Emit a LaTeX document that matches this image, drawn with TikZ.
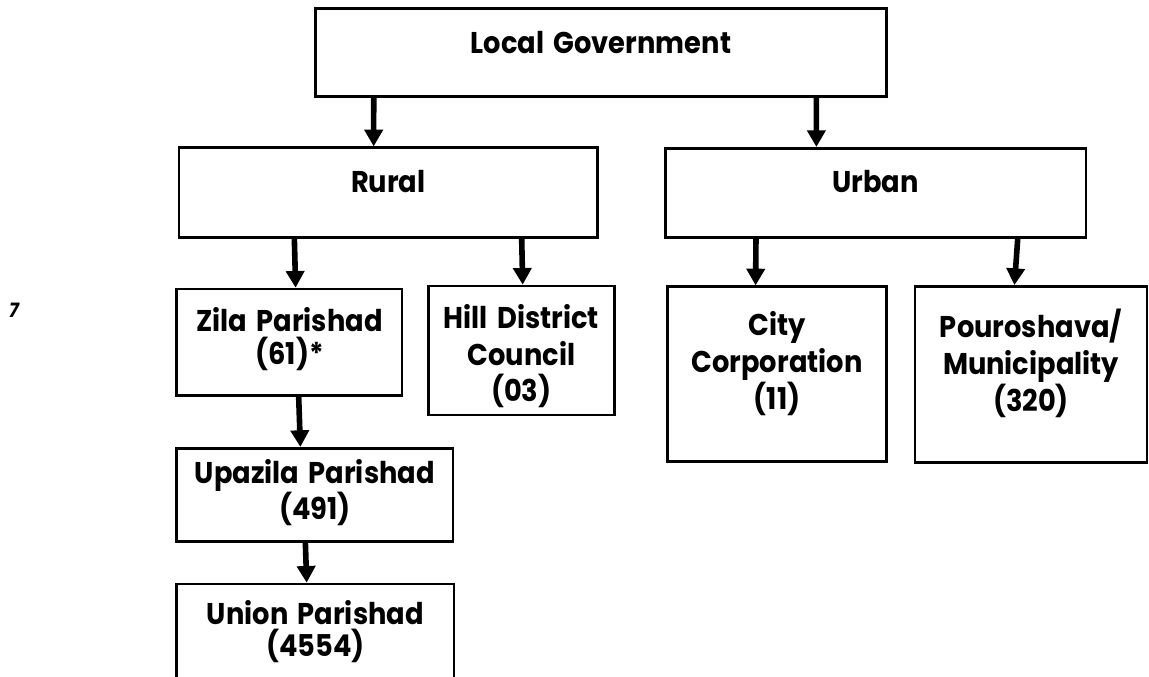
\documentclass[tikz,border=0pt]{standalone}
\usepackage{fontspec}
\setmainfont{Poppins}[FakeStretch=0.91,WordSpace=1.6]
\usetikzlibrary{arrows.meta}
\begin{document}
\begin{tikzpicture}[x=0.75pt,y=-0.75pt,
  box/.style={draw, line width=2pt, inner sep=0pt, rectangle},
  lbl/.style={font=\bfseries\fontsize{22.5}{26}\selectfont, align=center, inner sep=0pt},
  arr/.style={line width=4.2pt, -{Triangle[width=13.5pt,length=12.5pt]}}]
\useasboundingbox (0,0) rectangle (1149,677);
\clip (0,0) rectangle (1149,677);

% boxes
\node[box, minimum width=428.25pt, minimum height=66.3pt] (lg) at (601.2,52.5) {};
\node[box, minimum width=314pt, minimum height=67.2pt] (rural) at (388.35,192.5) {};
\node[box, minimum width=315.2pt, minimum height=66.75pt] (urban) at (875.85,192.8) {};
\node[box, minimum width=169pt, minimum height=80pt] (zila) at (289.35,342.35) {};
\node[box, minimum width=139.5pt, minimum height=96.75pt] (hill) at (521.3,350.5) {};
\node[box, minimum width=164.5pt, minimum height=131.25pt] (city) at (777,374.2) {};
\node[box, minimum width=174pt, minimum height=132pt] (pouro) at (1031,374.4) {};
\node[box, minimum width=207.2pt, minimum height=70.05pt] (upazila) at (314.85,495) {};
\node[box, minimum width=208pt, minimum height=102pt] (union) at (315.35,652) {};

% texts
\node[lbl, anchor=base] (lgt) at (601,53.3) {Local Government};
\node[lbl, anchor=base] (ruralt) at (388.3,192.7) {Rural};
\node[lbl, anchor=base] (urbant) at (875.7,192.7) {Urban};
\node[lbl, font=\bfseries\fontsize{22.5}{24.75}\selectfont] (zilat) at (289.5,339) {Zila Parishad\\(61)*};
\node[lbl, font=\bfseries\fontsize{22.5}{27.4}\selectfont] (hillt) at (521.3,356.5) {Hill District\\Council\\(03)};
\node[lbl, font=\bfseries\fontsize{22.5}{27.75}\selectfont] (cityt) at (777,363.4) {City\\Corporation\\(11)};
\node[lbl, font=\bfseries\fontsize{22.5}{27.75}\selectfont] (pourot) at (1031,363.4) {Pouroshava/\\Municipality\\(320)};
\node[lbl, font=\bfseries\fontsize{22.5}{24}\selectfont] (upazilat) at (314.85,492.5) {Upazila Parishad\\(491)};
\node[lbl, font=\bfseries\fontsize{22.5}{24}\selectfont] (uniont) at (315.35,631.5) {Union Parishad\\(4554)};
\node[font=\bfseries\itshape\fontsize{15}{18}\selectfont, inner sep=0pt] (seven) at (14,310) {7};

% connectors
\draw[arr] ([xshift=44.5pt]lg.south west) -- ([xshift=147pt]rural.north west);
\draw[arr] ([xshift=376.5pt]lg.south west) -- ([xshift=114pt]urban.north west);
\draw[arr] ([xshift=87.5pt]rural.south west) -- ([xshift=90.2pt]zila.north west);
\draw[arr] ([xshift=258pt]rural.south west) -- ([xshift=71.8pt]hill.north west);
\draw[arr] ([xshift=68.7pt]urban.south west) -- ([xshift=67.2pt]city.north west);
\draw[arr] ([xshift=265pt]urban.south west) -- ([xshift=75.6pt]pouro.north west);
\draw[arr] ([xshift=92.5pt]zila.south west) -- ([xshift=93.75pt]upazila.north west);
\draw[arr] ([xshift=97.5pt]upazila.south west) -- ([xshift=98.5pt]union.north west);
\end{tikzpicture}
\end{document}
